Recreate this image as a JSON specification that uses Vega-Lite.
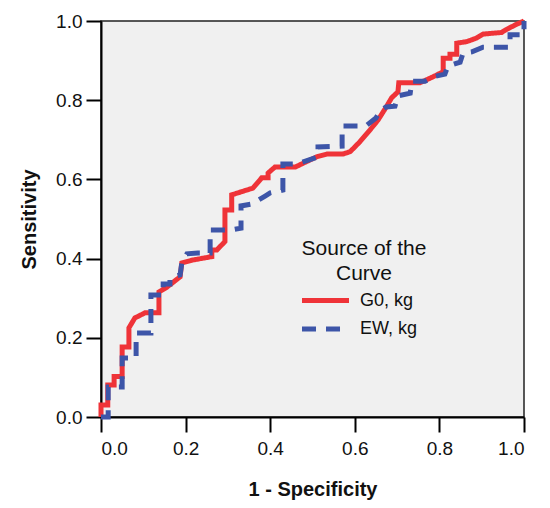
{
  "$schema": "https://vega.github.io/schema/vega-lite/v6.json",
  "width": 423,
  "height": 396,
  "autosize": "none",
  "padding": {"left": 101, "top": 21, "right": 26, "bottom": 91},
  "background": "white",
  "config": {
    "font": "Liberation Sans",
    "view": {"fill": "#f0f0f0", "stroke": "#222", "strokeWidth": 1.5},
    "axis": {
      "grid": false,
      "domainColor": "black",
      "domainWidth": 2,
      "tickColor": "black",
      "tickWidth": 2,
      "tickSize": 15,
      "labelFontSize": 19,
      "labelColor": "#111",
      "titleFontSize": 20,
      "titleFontWeight": "bold",
      "titleColor": "#111"
    },
    "legend": {
      "orient": "none",
      "legendX": 201,
      "legendY": 217,
      "titleFontSize": 21,
      "titleFontWeight": "normal",
      "titleColor": "#111",
      "titleAlign": "center",
      "titleAnchor": "middle",
      "titleLineHeight": 25,
      "titlePadding": 2,
      "labelFontSize": 18,
      "labelColor": "#111",
      "labelOffset": 20,
      "rowPadding": 3.5,
      "symbolType": "M-2,0H2",
      "symbolSize": 552,
      "symbolStrokeWidth": 5
    }
  },
  "data": {
    "values": [
      {"s": "G0, kg", "i": 0, "x": 0, "y": 0},
      {"s": "G0, kg", "i": 1, "x": 0, "y": 0.03},
      {"s": "G0, kg", "i": 2, "x": 0.016, "y": 0.03},
      {"s": "G0, kg", "i": 3, "x": 0.016, "y": 0.081},
      {"s": "G0, kg", "i": 4, "x": 0.031, "y": 0.081},
      {"s": "G0, kg", "i": 5, "x": 0.031, "y": 0.102},
      {"s": "G0, kg", "i": 6, "x": 0.05, "y": 0.102},
      {"s": "G0, kg", "i": 7, "x": 0.05, "y": 0.177},
      {"s": "G0, kg", "i": 8, "x": 0.066, "y": 0.177},
      {"s": "G0, kg", "i": 9, "x": 0.066, "y": 0.225},
      {"s": "G0, kg", "i": 10, "x": 0.08, "y": 0.25},
      {"s": "G0, kg", "i": 11, "x": 0.104, "y": 0.263},
      {"s": "G0, kg", "i": 12, "x": 0.137, "y": 0.263},
      {"s": "G0, kg", "i": 13, "x": 0.137, "y": 0.316},
      {"s": "G0, kg", "i": 14, "x": 0.156, "y": 0.328},
      {"s": "G0, kg", "i": 15, "x": 0.187, "y": 0.354},
      {"s": "G0, kg", "i": 16, "x": 0.191, "y": 0.389},
      {"s": "G0, kg", "i": 17, "x": 0.215, "y": 0.396},
      {"s": "G0, kg", "i": 18, "x": 0.262, "y": 0.405},
      {"s": "G0, kg", "i": 19, "x": 0.262, "y": 0.422},
      {"s": "G0, kg", "i": 20, "x": 0.274, "y": 0.422},
      {"s": "G0, kg", "i": 21, "x": 0.293, "y": 0.443},
      {"s": "G0, kg", "i": 22, "x": 0.293, "y": 0.523},
      {"s": "G0, kg", "i": 23, "x": 0.309, "y": 0.523},
      {"s": "G0, kg", "i": 24, "x": 0.309, "y": 0.561},
      {"s": "G0, kg", "i": 25, "x": 0.359, "y": 0.578},
      {"s": "G0, kg", "i": 26, "x": 0.38, "y": 0.604},
      {"s": "G0, kg", "i": 27, "x": 0.395, "y": 0.604},
      {"s": "G0, kg", "i": 28, "x": 0.395, "y": 0.616},
      {"s": "G0, kg", "i": 29, "x": 0.411, "y": 0.631},
      {"s": "G0, kg", "i": 30, "x": 0.459, "y": 0.631},
      {"s": "G0, kg", "i": 31, "x": 0.486, "y": 0.645},
      {"s": "G0, kg", "i": 32, "x": 0.51, "y": 0.657},
      {"s": "G0, kg", "i": 33, "x": 0.534, "y": 0.664},
      {"s": "G0, kg", "i": 34, "x": 0.572, "y": 0.664},
      {"s": "G0, kg", "i": 35, "x": 0.589, "y": 0.67},
      {"s": "G0, kg", "i": 36, "x": 0.612, "y": 0.695},
      {"s": "G0, kg", "i": 37, "x": 0.636, "y": 0.725},
      {"s": "G0, kg", "i": 38, "x": 0.655, "y": 0.75},
      {"s": "G0, kg", "i": 39, "x": 0.675, "y": 0.784},
      {"s": "G0, kg", "i": 40, "x": 0.687, "y": 0.806},
      {"s": "G0, kg", "i": 41, "x": 0.702, "y": 0.821},
      {"s": "G0, kg", "i": 42, "x": 0.704, "y": 0.844},
      {"s": "G0, kg", "i": 43, "x": 0.754, "y": 0.844},
      {"s": "G0, kg", "i": 44, "x": 0.785, "y": 0.859},
      {"s": "G0, kg", "i": 45, "x": 0.809, "y": 0.872},
      {"s": "G0, kg", "i": 46, "x": 0.809, "y": 0.906},
      {"s": "G0, kg", "i": 47, "x": 0.825, "y": 0.906},
      {"s": "G0, kg", "i": 48, "x": 0.825, "y": 0.916},
      {"s": "G0, kg", "i": 49, "x": 0.841, "y": 0.916},
      {"s": "G0, kg", "i": 50, "x": 0.841, "y": 0.944},
      {"s": "G0, kg", "i": 51, "x": 0.865, "y": 0.948},
      {"s": "G0, kg", "i": 52, "x": 0.888, "y": 0.957},
      {"s": "G0, kg", "i": 53, "x": 0.903, "y": 0.967},
      {"s": "G0, kg", "i": 54, "x": 0.947, "y": 0.971},
      {"s": "G0, kg", "i": 55, "x": 0.959, "y": 0.979},
      {"s": "G0, kg", "i": 56, "x": 0.983, "y": 0.992},
      {"s": "G0, kg", "i": 57, "x": 1, "y": 1},
      {"s": "EW, kg", "i": 0, "x": 0, "y": 0},
      {"s": "EW, kg", "i": 1, "x": 0.017, "y": 0},
      {"s": "EW, kg", "i": 2, "x": 0.017, "y": 0.076},
      {"s": "EW, kg", "i": 3, "x": 0.05, "y": 0.076},
      {"s": "EW, kg", "i": 4, "x": 0.05, "y": 0.149},
      {"s": "EW, kg", "i": 5, "x": 0.083, "y": 0.149},
      {"s": "EW, kg", "i": 6, "x": 0.083, "y": 0.212},
      {"s": "EW, kg", "i": 7, "x": 0.118, "y": 0.212},
      {"s": "EW, kg", "i": 8, "x": 0.118, "y": 0.308},
      {"s": "EW, kg", "i": 9, "x": 0.147, "y": 0.308},
      {"s": "EW, kg", "i": 10, "x": 0.147, "y": 0.336},
      {"s": "EW, kg", "i": 11, "x": 0.163, "y": 0.336},
      {"s": "EW, kg", "i": 12, "x": 0.163, "y": 0.351},
      {"s": "EW, kg", "i": 13, "x": 0.187, "y": 0.359},
      {"s": "EW, kg", "i": 14, "x": 0.191, "y": 0.389},
      {"s": "EW, kg", "i": 15, "x": 0.203, "y": 0.412},
      {"s": "EW, kg", "i": 16, "x": 0.229, "y": 0.414},
      {"s": "EW, kg", "i": 17, "x": 0.258, "y": 0.414},
      {"s": "EW, kg", "i": 18, "x": 0.258, "y": 0.472},
      {"s": "EW, kg", "i": 19, "x": 0.305, "y": 0.472},
      {"s": "EW, kg", "i": 20, "x": 0.331, "y": 0.477},
      {"s": "EW, kg", "i": 21, "x": 0.331, "y": 0.533},
      {"s": "EW, kg", "i": 22, "x": 0.357, "y": 0.538},
      {"s": "EW, kg", "i": 23, "x": 0.388, "y": 0.558},
      {"s": "EW, kg", "i": 24, "x": 0.4, "y": 0.566},
      {"s": "EW, kg", "i": 25, "x": 0.43, "y": 0.573},
      {"s": "EW, kg", "i": 26, "x": 0.43, "y": 0.639},
      {"s": "EW, kg", "i": 27, "x": 0.463, "y": 0.639},
      {"s": "EW, kg", "i": 28, "x": 0.499, "y": 0.652},
      {"s": "EW, kg", "i": 29, "x": 0.513, "y": 0.657},
      {"s": "EW, kg", "i": 30, "x": 0.513, "y": 0.682},
      {"s": "EW, kg", "i": 31, "x": 0.57, "y": 0.684},
      {"s": "EW, kg", "i": 32, "x": 0.57, "y": 0.735},
      {"s": "EW, kg", "i": 33, "x": 0.626, "y": 0.735},
      {"s": "EW, kg", "i": 34, "x": 0.65, "y": 0.755},
      {"s": "EW, kg", "i": 35, "x": 0.66, "y": 0.773},
      {"s": "EW, kg", "i": 36, "x": 0.674, "y": 0.783},
      {"s": "EW, kg", "i": 37, "x": 0.695, "y": 0.785},
      {"s": "EW, kg", "i": 38, "x": 0.702, "y": 0.811},
      {"s": "EW, kg", "i": 39, "x": 0.731, "y": 0.818},
      {"s": "EW, kg", "i": 40, "x": 0.735, "y": 0.848},
      {"s": "EW, kg", "i": 41, "x": 0.766, "y": 0.848},
      {"s": "EW, kg", "i": 42, "x": 0.785, "y": 0.859},
      {"s": "EW, kg", "i": 43, "x": 0.813, "y": 0.866},
      {"s": "EW, kg", "i": 44, "x": 0.82, "y": 0.886},
      {"s": "EW, kg", "i": 45, "x": 0.849, "y": 0.896},
      {"s": "EW, kg", "i": 46, "x": 0.856, "y": 0.919},
      {"s": "EW, kg", "i": 47, "x": 0.877, "y": 0.922},
      {"s": "EW, kg", "i": 48, "x": 0.903, "y": 0.934},
      {"s": "EW, kg", "i": 49, "x": 0.967, "y": 0.934},
      {"s": "EW, kg", "i": 50, "x": 0.967, "y": 0.965},
      {"s": "EW, kg", "i": 51, "x": 1, "y": 0.965},
      {"s": "EW, kg", "i": 52, "x": 1, "y": 1}
    ]
  },
  "mark": {"type": "line", "strokeWidth": 5, "strokeJoin": "miter", "strokeCap": "butt"},
  "encoding": {
    "x": {
      "field": "x",
      "type": "quantitative",
      "title": "1 - Specificity",
      "scale": {"domain": [0, 1], "nice": false},
      "axis": {"values": [0, 0.2, 0.4, 0.6, 0.8, 1], "format": ".1f", "labelPadding": 7, "titlePadding": 21}
    },
    "y": {
      "field": "y",
      "type": "quantitative",
      "title": "Sensitivity",
      "scale": {"domain": [0, 1], "nice": false},
      "axis": {"values": [0, 0.2, 0.4, 0.6, 0.8, 1], "format": ".1f", "labelPadding": 4, "titlePadding": 16}
    },
    "order": {"field": "i", "type": "quantitative"},
    "color": {
      "field": "s",
      "type": "nominal",
      "scale": {"domain": ["G0, kg", "EW, kg"], "range": ["#ef3338", "#3d55a8"]},
      "legend": {"title": ["Source of the", "Curve"]}
    },
    "strokeDash": {
      "field": "s",
      "type": "nominal",
      "scale": {"domain": ["G0, kg", "EW, kg"], "range": [[1, 0], [14, 10]]},
      "legend": {"title": ["Source of the", "Curve"]}
    }
  }
}
